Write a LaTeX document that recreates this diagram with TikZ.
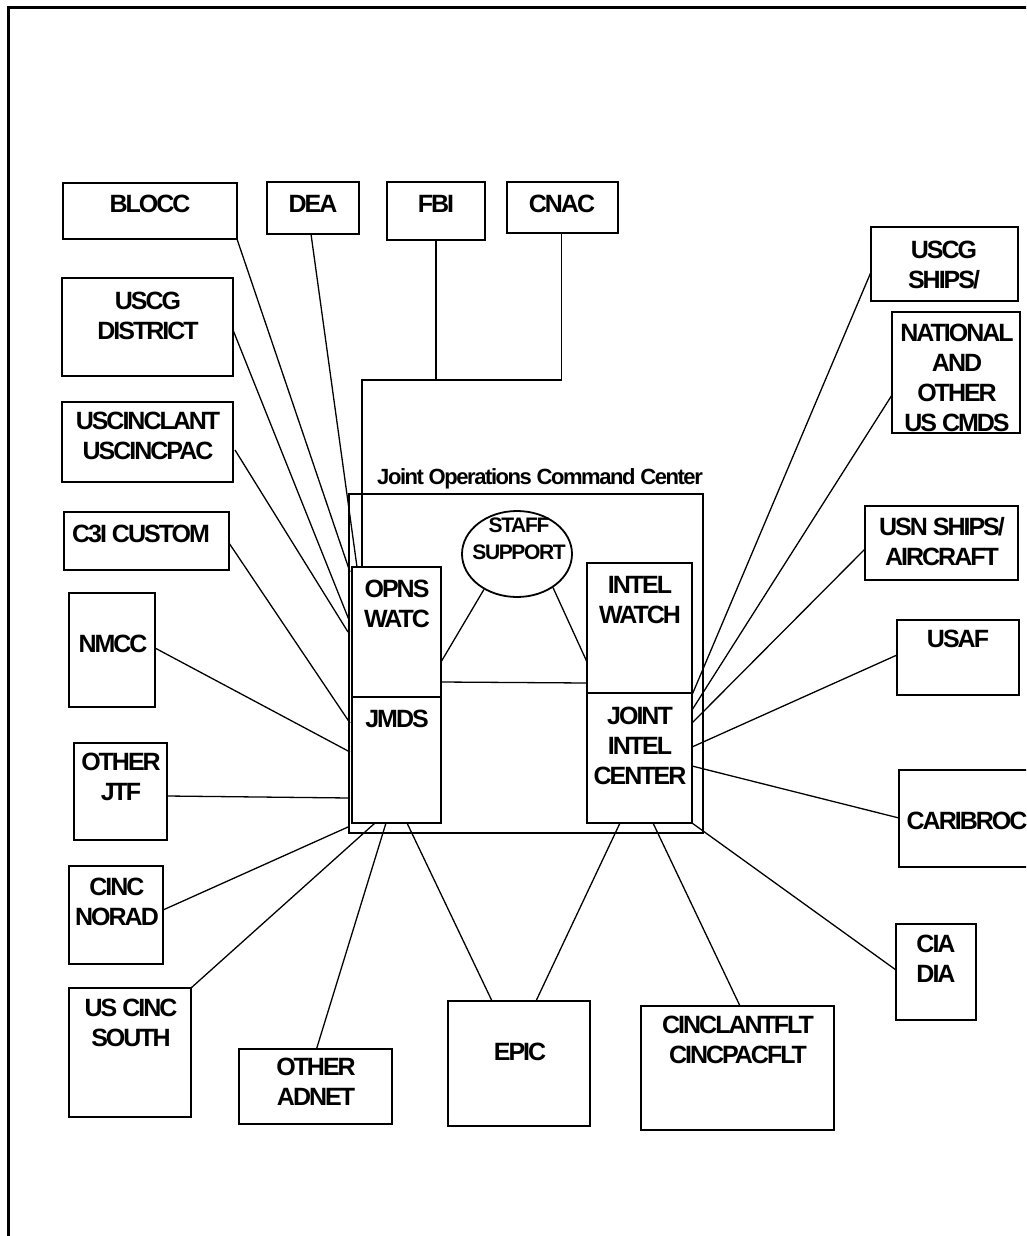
\documentclass[tikz,border=0pt]{standalone}
\usepackage{fontspec}
\usetikzlibrary{calc,shapes.geometric}
\newfontfamily\lblfont[LetterSpace=-8]{Liberation Sans Bold}
\newfontfamily\ttlfont[LetterSpace=-6.5]{Liberation Sans Bold}
\newfontfamily\stffont[LetterSpace=-6.5]{Liberation Sans Bold}
\tikzset{
  boxst/.style={draw, line width=1.8pt, rectangle, inner sep=0pt, outer sep=0pt},
  lbl/.style={font=\lblfont\fontsize{25}{30}\selectfont, align=center, inner sep=0pt, anchor=north},
  conn/.style={line width=1.3pt},
  ttl/.style={font=\ttlfont\fontsize{22}{26}\selectfont, inner sep=0pt, anchor=north},
  stafflbl/.style={font=\stffont\fontsize{21}{27}\selectfont, align=center, inner sep=0pt, anchor=north},
}
% name, x1, y1, x2, y2, text x, text top y, text
\newcommand\mkbox[8]{%
  \node[boxst, minimum width={#4-#2}, minimum height={#5-#3}] (#1) at ({(#2+#4)/2},{(#3+#5)/2}) {};
  \node[lbl] (#1-t) at (#6,#7) {#8};
}
\begin{document}
\begin{tikzpicture}[x=1pt,y=-1pt]
\useasboundingbox (0,0) rectangle (1026,1236);
\clip (0,0) rectangle (1026,1236);
% page frame
\draw[line width=3pt] (1030,8) -- (8,8) -- (8,1240);

% JOCC frame and title
\node[boxst, minimum width=354, minimum height=339] (jocc) at (526,663.5) {};
\node[ttl] (title) at (540,468) {Joint Operations Command Center};

% inner boxes
\mkbox{opns}{352}{567}{441}{697}{397}{580}{OPNS\\WATC}
\mkbox{jmds}{352}{697}{441}{823}{397}{710}{JMDS}
\mkbox{intelw}{587}{563}{692}{693}{640}{576}{INTEL\\WATCH}
\mkbox{jic}{587}{693}{692}{823}{640}{707}{JOINT\\INTEL\\CENTER}
\node[draw, line width=1.8pt, ellipse, minimum width=110, minimum height=86, inner sep=0pt] (staff) at (517,554) {};
\node[stafflbl] (staff-t) at (519,518) {STAFF\\SUPPORT};

% top row
\mkbox{blocc}{63}{183}{237}{239}{150}{195}{BLOCC}
\mkbox{dea}{267}{182}{359}{234}{313}{195}{DEA}
\mkbox{fbi}{387}{182}{485}{240}{436}{195}{FBI}
\mkbox{cnac}{507}{182}{618}{233}{562}{195}{CNAC}

% left column
\mkbox{uscgd}{62}{278}{233}{376}{148}{292}{USCG\\DISTRICT}
\mkbox{uscinc}{62}{402}{233}{482}{148}{412}{USCINCLANT\\USCINCPAC}
\mkbox{c3i}{64}{512}{229}{570}{141}{525}{C3I CUSTOM}
\mkbox{nmcc}{69}{593}{155}{707}{113}{635}{NMCC}
\mkbox{jtf}{74}{743}{167}{840}{121}{753}{OTHER\\JTF}
\mkbox{norad}{69}{866}{163}{964}{117}{878}{CINC\\NORAD}
\mkbox{south}{69}{988}{191}{1117}{131}{999}{US CINC\\SOUTH}

% bottom row
\mkbox{adnet}{239}{1049}{392}{1124}{316}{1058}{OTHER\\ADNET}
\mkbox{epic}{448}{1001}{590}{1126}{520}{1043}{EPIC}
\mkbox{cinclant}{641}{1006}{834}{1130}{738}{1016}{CINCLANTFLT\\CINCPACFLT}
\mkbox{cia}{896}{924}{976}{1020}{936}{935}{CIA\\DIA}

% right column
\mkbox{uscgs}{871}{227}{1018}{301}{944}{241}{USCG\\SHIPS/}
\mkbox{natl}{892}{312}{1020}{433}{957}{324}{NATIONAL\\AND\\OTHER\\US CMDS}
\mkbox{usn}{865}{506}{1018}{580}{942}{517}{USN SHIPS/\\AIRCRAFT}
\mkbox{usaf}{897}{620}{1019}{695}{958}{630}{USAF}
\mkbox{carib}{899}{770}{1050}{867}{967}{812}{CARIBROC}

% bus from FBI and CNAC
\coordinate (busL) at (362,380);
\draw[conn] (fbi.south) -- (fbi.south |- busL);
\draw[conn] ($(cnac.south)+(-1,0)$) |- (busL) -- ($(opns.north west)+(10,0)$);

% left group connectors
\draw[conn] (blocc.south east) -- ($(opns.north west)+(-2,5)$);
\draw[conn] ($(dea.south)+(-2,0)$) -- ($(opns.north west)+(5,0)$);
\draw[conn] ($(uscgd.north east)+(0,52)$) -- ($(opns.north west)+(-3,53)$);
\draw[conn] ($(uscinc.north east)+(2,48)$) -- ($(opns.north west)+(-4,65)$);
\draw[conn] ($(c3i.north east)+(0,31)$) -- ($(jmds.north west)+(-2,26)$);
\draw[conn] ($(nmcc.north east)+(0,55)$) -- ($(jmds.north west)+(-2,55)$);
\draw[conn] ($(jtf.north east)+(0,53)$) -- ($(jmds.north west)+(-2,101)$);
\draw[conn] ($(norad.north east)+(0,44)$) -- ($(jmds.south west)+(-4,4)$);
\draw[conn] (south.north east) -- ($(jmds.south west)+(23,0)$);
\draw[conn] ($(adnet.north)+(1,0)$) -- ($(jmds.south west)+(34,0)$);
\draw[conn] ($(epic.north west)+(44,0)$) -- ($(jmds.south west)+(55,0)$);

% right group connectors
\draw[conn] ($(epic.north west)+(88,0)$) -- ($(jic.south west)+(33,0)$);
\draw[conn] ($(cinclant.north west)+(99,0)$) -- ($(jic.south west)+(66,0)$);
\draw[conn] ($(cia.north west)+(0,46)$) -- (jic.south east);
\draw[conn] ($(uscgs.north west)+(0,45)$) -- ($(jic.north east)+(0,2)$);
\draw[conn] ($(natl.north west)+(0,83)$) -- ($(jic.north east)+(0,17)$);
\draw[conn] ($(usn.north west)+(0,43)$) -- ($(jic.north east)+(0,30)$);
\draw[conn] ($(usaf.north west)+(0,35)$) -- ($(jic.north east)+(0,54)$);
\draw[conn] ($(carib.north west)+(0,48)$) -- ($(jic.north east)+(0,73)$);

% inner connectors
\draw[conn] (staff.227) -- ($(opns.north east)+(0,95)$);
\draw[conn] (staff.317) -- ($(intelw.north west)+(0,99)$);
\draw[conn] ($(opns.north east)+(0,115)$) -- ($(intelw.north west)+(0,120)$);
\end{tikzpicture}
\end{document}
